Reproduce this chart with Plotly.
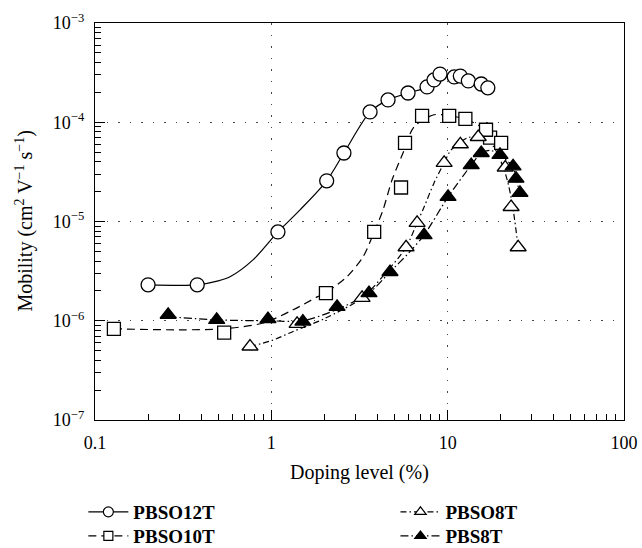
import plotly.graph_objects as go

# ---------------- data ----------------
pbso12t_x = [0.20, 0.38, 1.09, 2.06, 2.58, 3.63, 4.59, 5.96, 7.64, 8.37, 9.05, 10.9, 11.8, 13.1, 15.5, 16.9]
pbso12t_y = [2.3e-6, 2.3e-6, 7.85e-6, 2.57e-5, 4.9e-5, 1.27e-4, 1.68e-4, 1.97e-4, 2.27e-4, 2.67e-4,
             3.06e-4, 2.86e-4, 2.92e-4, 2.61e-4, 2.43e-4, 2.22e-4]

pbso10t_x = [0.128, 0.54, 2.04, 3.83, 5.44, 5.73, 7.16, 10.2, 12.6, 17.4, 16.5, 20.1]
pbso10t_y = [8.3e-7, 7.6e-7, 1.9e-6, 7.85e-6, 2.2e-5, 6.2e-5, 1.16e-4, 1.16e-4, 1.08e-4, 7.0e-5, 8.4e-5, 6.2e-5]

pbso8t_x = [0.757, 1.40, 3.27, 5.81, 6.71, 9.55, 11.8, 14.9, 21.2, 22.9, 25.1]
pbso8t_y = [5.5e-7, 9.3e-7, 1.7e-6, 5.5e-6, 9.7e-6, 3.9e-5, 6.0e-5, 7.1e-5, 3.5e-5, 1.4e-5, 5.5e-6]

pbs8t_x = [0.26, 0.49, 0.957, 1.51, 2.36, 3.58, 4.71, 7.35, 10.05, 13.6, 15.5, 19.8, 23.5, 24.4, 25.7]
pbs8t_y = [1.15e-6, 1.02e-6, 1.04e-6, 9.8e-7, 1.38e-6, 1.9e-6, 3.1e-6, 7.3e-6, 1.77e-5, 3.7e-5,
           4.9e-5, 4.7e-5, 3.6e-5, 2.7e-5, 1.94e-5]

# fitted guide curves
fit12_x = [0.20, 0.38, 0.50, 0.583, 0.787, 1.09, 1.455, 2.06, 2.58, 3.63, 4.59, 5.96, 7.64, 9.05]
fit12_y = [2.3e-6, 2.3e-6, 2.52e-6, 2.77e-6, 4.1e-6, 7.85e-6, 1.31e-5, 2.57e-5, 4.9e-5, 1.27e-4,
           1.68e-4, 1.97e-4, 2.27e-4, 3.0e-4]

fit10_x = [0.128, 0.3, 0.54, 0.9, 1.33, 1.82, 2.15, 2.68, 3.31, 3.83, 4.30, 4.84, 5.58, 6.45, 8.37,
           10.2, 12.6, 16.5, 20.1]
fit10_y = [8.3e-7, 8.1e-7, 8.3e-7, 9.5e-7, 1.29e-6, 1.74e-6, 2.05e-6, 2.77e-6, 4.4e-6, 7.85e-6,
           1.31e-5, 2.63e-5, 4.9e-5, 9.0e-5, 1.19e-4, 1.16e-4, 1.08e-4, 8.4e-5, 6.2e-5]

fit8_x = [0.757, 1.0, 1.33, 2.0, 3.27, 4.5, 5.81, 6.71, 7.35, 8.37, 9.55, 10.4, 11.8, 13.0, 14.9,
          16.5, 18.3, 20.7, 22.3, 23.7, 25.1]
fit8_y = [5.5e-7, 6.3e-7, 7.8e-7, 1.05e-6, 1.7e-6, 3.1e-6, 5.5e-6, 9.7e-6, 1.4e-5, 2.45e-5, 3.9e-5,
          5.2e-5, 6.3e-5, 7.0e-5, 7.2e-5, 6.8e-5, 5.6e-5, 3.5e-5, 2.2e-5, 1.2e-5, 5.5e-6]

fitb8_x = [0.26, 0.49, 0.957, 1.51, 2.36, 3.58, 4.71, 6.0, 7.35, 10.05, 13.6, 15.5, 17.5, 19.8,
           22.0, 23.5, 24.4, 25.7]
fitb8_y = [1.1e-6, 1.02e-6, 1.0e-6, 1.0e-6, 1.3e-6, 1.9e-6, 3.1e-6, 4.8e-6, 7.3e-6, 1.77e-5, 3.7e-5,
           4.9e-5, 5.2e-5, 4.7e-5, 4.0e-5, 3.6e-5, 2.7e-5, 1.94e-5]

x_tickvals = [0.1, 1, 10, 100]
x_ticktext = ["0.1", "1", "10", "100"]
y_tickvals = [1e-7, 1e-6, 1e-5, 1e-4, 1e-3]
y_ticktext = ["10<sup>\u22127</sup>", "10<sup>\u22126</sup>", "10<sup>\u22125</sup>",
              "10<sup>\u22124</sup>", "10<sup>\u22123</sup>"]

names = ["PBSO12T", "PBSO10T", "PBSO8T", "PBS8T"]

# ---------------- styles ----------------
FONT = "Liberation Serif, Times New Roman, serif"
series = [
    dict(name=names[0], x=pbso12t_x, y=pbso12t_y, fx=fit12_x, fy=fit12_y,
         dash="solid", symbol="circle", fill="white", size=14),
    dict(name=names[1], x=pbso10t_x, y=pbso10t_y, fx=fit10_x, fy=fit10_y,
         dash="8px,5px", symbol="square", fill="white", size=13),
    dict(name=names[2], x=pbso8t_x, y=pbso8t_y, fx=fit8_x, fy=fit8_y,
         dash="6px,3px,1.5px,3px", symbol="triangle-up", fill="white", size=14),
    dict(name=names[3], x=pbs8t_x, y=pbs8t_y, fx=fitb8_x, fy=fitb8_y,
         dash="8px,3px,1.5px,3px", symbol="triangle-up", fill="black", size=14),
]

fig = go.Figure()

for s in series:
    fig.add_trace(go.Scatter(x=s["fx"], y=s["fy"], mode="lines", showlegend=False,
                             line=dict(color="black", width=1.2, dash=s["dash"], shape="spline",
                                       smoothing=0.8),
                             hoverinfo="skip"))
for s in series:
    fig.add_trace(go.Scatter(x=s["x"], y=s["y"], mode="markers", showlegend=False,
                             marker=dict(symbol=s["symbol"], size=s["size"], color=s["fill"],
                                         line=dict(color="black", width=1.3))))

# legend entries (four single-item legends placed in two columns)
legend_names = ["legend", "legend2", "legend3", "legend4"]
for s, lg in zip(series, legend_names):
    fig.add_trace(go.Scatter(x=[None], y=[None], mode="lines+markers", name=s["name"],
                             legend=lg,
                             line=dict(color="black", width=1.2, dash=s["dash"]),
                             marker=dict(symbol=s["symbol"], size=10 if s["symbol"] != "square" else 9,
                                         color=s["fill"], line=dict(color="black", width=1.2))))

axis_common = dict(type="log", showline=True, linecolor="black", linewidth=1.4, mirror=True,
                   ticks="inside", ticklen=10, tickwidth=1.2, tickcolor="black",
                   showgrid=True, gridcolor="#444", gridwidth=1.4, griddash="1.5px,10px",
                   zeroline=False,
                   tickfont=dict(family=FONT, size=18, color="black"),
                   minor=dict(ticks="inside", ticklen=6, tickwidth=1.1, tickcolor="black",
                              dtick="D1", showgrid=False))

fig.update_xaxes(range=[-1, 2], tickvals=x_tickvals, ticktext=x_ticktext,
                 ticklabelstandoff=6, **axis_common)
fig.update_yaxes(range=[-7, -3], tickvals=y_tickvals, ticktext=y_ticktext,
                 ticklabelstandoff=6, **axis_common)

leg_common = dict(font=dict(family=FONT, size=19, color="black", weight="bold"),
                  bgcolor="rgba(0,0,0,0)", borderwidth=0, xanchor="left", yanchor="middle",
                  orientation="v", itemclick=False, itemwidth=40)
fig.update_layout(
    width=642, height=548,
    margin=dict(l=95, r=18, t=23, b=128, autoexpand=False),
    plot_bgcolor="white", paper_bgcolor="white",
    font=dict(family=FONT, color="black"),
    legend=dict(x=-0.022, y=-0.2317, **leg_common),
    legend2=dict(x=-0.022, y=-0.2923, **leg_common),
    legend3=dict(x=0.568, y=-0.2317, **leg_common),
    legend4=dict(x=0.568, y=-0.2923, **leg_common),
    annotations=[
        dict(text="Doping level (%)", xref="paper", yref="paper", x=0.5, y=-0.131,
             xanchor="center", yanchor="middle", showarrow=False,
             font=dict(family=FONT, size=20, color="black")),
        dict(text="Mobility (cm<sup>2</sup> V<sup>\u22121</sup> s<sup>\u22121</sup>)",
             xref="paper", yref="paper", x=-0.134, y=0.5, textangle=-90,
             xanchor="center", yanchor="middle", showarrow=False,
             font=dict(family=FONT, size=20, color="black")),
    ],
)

fig.write_html("out.html")
